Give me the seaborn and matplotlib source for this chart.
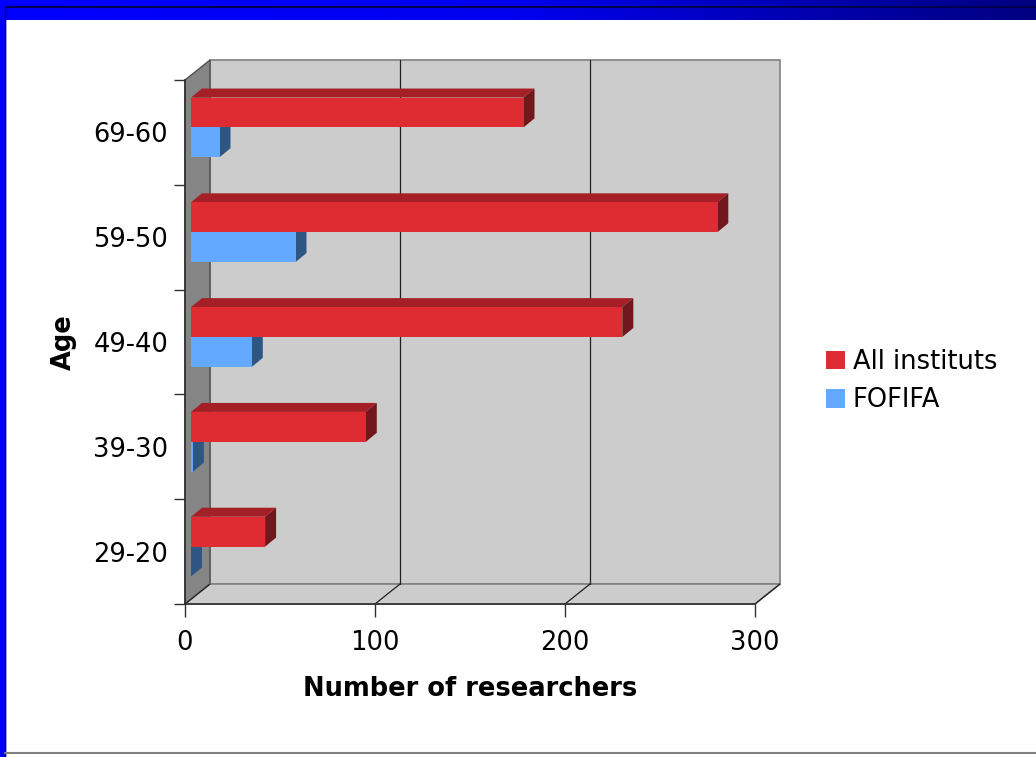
import numpy as np
import pandas as pd
import seaborn as sns
import matplotlib
matplotlib.use("Agg")
import matplotlib.pyplot as plt
from matplotlib.patches import Polygon, Rectangle, Patch
from matplotlib.lines import Line2D
from matplotlib.transforms import ScaledTranslation, IdentityTransform
from matplotlib.colors import LinearSegmentedColormap

# ---- data ----
ages = ["69-60", "59-50", "49-40", "39-30", "29-20"]
all_instituts = [175, 277, 227, 92, 39]
fofifa = [15, 55, 32, 1, 0]
series = ["All instituts", "FOFIFA"]
x_ticks = [0, 100, 200, 300]

front_colors = ["#DF2C33", "#63A9FF"]
top_colors = ["#A52026", "#3E6FA8"]
side_colors = ["#72171B", "#2F5682"]

df = pd.DataFrame({
    "Age": ages * 2,
    "Number": all_instituts + fofifa,
    "Series": [series[0]] * len(ages) + [series[1]] * len(ages),
})

W, H = 1036, 757
FS = 18.5
sns.set_theme(style="white")
plt.rcParams["font.family"] = ["DejaVu Sans"]
plt.rcParams["text.color"] = "black"
plt.rcParams["axes.labelcolor"] = "black"
fig = plt.figure(figsize=(W / 100, H / 100), dpi=100)
fig.patch.set_facecolor("white")

# ---- slide frame ----
top = fig.add_axes([0, 1 - 20 / H, 1, 20 / H])
cmap = LinearSegmentedColormap.from_list("g", ["#0000FF", "#0000EE", "#000080"])
top.imshow(np.linspace(0, 1, 256)[None, :], aspect="auto", cmap=cmap, extent=[0, 1, 0, 1])
top.axhline(0.64, color="#000050", lw=1.5)
top.set_axis_off()
fig.add_artist(Rectangle((0, 0), 5 / W, 1, transform=fig.transFigure, color="#0000FF", zorder=5))
fig.add_artist(Line2D([5 / W, 5 / W], [0, 1 - 7 / H], transform=fig.transFigure, color="#000060", lw=1, zorder=5))
fig.add_artist(Line2D([5 / W, 1], [1 - 753 / H, 1 - 753 / H], transform=fig.transFigure, color="#808080", lw=1.5, zorder=5))

# ---- main axes (front plane) ----
ax = fig.add_axes([185 / W, 1 - 604 / H, 570 / W, 524 / H])
ax.patch.set_visible(False)
sns.barplot(data=df, y="Age", x="Number", hue="Series", order=ages, hue_order=series,
            palette=front_colors, width=0.57, orient="h", saturation=1, linewidth=0,
            legend=False, ax=ax)
ax.set_xlim(0, 300)
ax.set_ylim(len(ages) - 0.5, -0.5)

# 3-D geometry (pixels)
wall_dx, wall_dy = 25, 20
bar_off = (6, 5)
depth = (11, 9)
ident = IdentityTransform()

def disp(x, y):
    return ax.transData.transform((x, y))

x0b, y0b = disp(0, len(ages) - 0.5)
x1b, y1t = disp(300, -0.5)
# back wall
ax.add_patch(Polygon([(x0b + wall_dx, y0b + wall_dy), (x1b + wall_dx, y0b + wall_dy),
                      (x1b + wall_dx, y1t + wall_dy), (x0b + wall_dx, y1t + wall_dy)],
                     closed=True, transform=ident, facecolor="#CCCCCC", edgecolor="#808080",
                     lw=1.2, zorder=0.1, clip_on=False))
# left wall
ax.add_patch(Polygon([(x0b, y0b), (x0b, y1t), (x0b + wall_dx, y1t + wall_dy), (x0b + wall_dx, y0b + wall_dy)],
                     closed=True, transform=ident, facecolor="#858585", edgecolor="#505050",
                     lw=1.0, zorder=0.2, clip_on=False))
# floor
ax.add_patch(Polygon([(x0b, y0b), (x1b, y0b), (x1b + wall_dx, y0b + wall_dy), (x0b + wall_dx, y0b + wall_dy)],
                     closed=True, transform=ident, facecolor="#CCCCCC", edgecolor="#808080",
                     lw=1.2, zorder=0.2, clip_on=False))
for v in x_ticks:
    xf, _ = disp(v, 0)
    ax.add_line(Line2D([xf, xf + wall_dx], [y0b, y0b + wall_dy], transform=ident,
                       color="#202020", lw=0.9, zorder=0.3, clip_on=False))
    if 0 < v < 300:
        ax.add_line(Line2D([xf + wall_dx, xf + wall_dx], [y0b + wall_dy, y1t + wall_dy], transform=ident,
                           color="#202020", lw=0.9, zorder=0.3, clip_on=False))

# bars: shift front faces and add top/side faces
shift = ScaledTranslation(bar_off[0] / 100, bar_off[1] / 100, fig.dpi_scale_trans)
bars = [p for p in ax.patches if isinstance(p, Rectangle) and p.get_zorder() >= 0.5]
for p in bars:
    fc = matplotlib.colors.to_hex(p.get_facecolor()).upper()
    idx = front_colors.index(fc) if fc in front_colors else 0
    bx, by, bw, bh = p.get_x(), p.get_y(), p.get_width(), p.get_height()
    (L, B) = disp(bx, by + bh)
    (R, T) = disp(bx + bw, by)
    L += bar_off[0]; R += bar_off[0]; B += bar_off[1]; T += bar_off[1]
    dx, dy = depth
    ax.add_patch(Polygon([(L, T), (R, T), (R + dx, T + dy), (L + dx, T + dy)], closed=True,
                         transform=ident, facecolor=top_colors[idx], lw=0, zorder=0.9, clip_on=False))
    ax.add_patch(Polygon([(R, B), (R, T), (R + dx, T + dy), (R + dx, B + dy)], closed=True,
                         transform=ident, facecolor=side_colors[idx], lw=0, zorder=0.95, clip_on=False))
    p.set_transform(ax.transData + shift)
    p.set_zorder(1)
    p.set_clip_on(False)

# axes styling
for s in ["top", "right"]:
    ax.spines[s].set_visible(False)
for s in ["left", "bottom"]:
    ax.spines[s].set_color("#303030")
    ax.spines[s].set_linewidth(1.2)
    ax.spines[s].set_zorder(0.5)
ax.set_xticks(x_ticks)
ax.set_xticklabels([str(v) for v in x_ticks])
ax.set_yticks(range(len(ages)))
ax.set_yticklabels(ages)
ax.set_yticks(np.arange(-0.5, len(ages)), minor=True)
ax.tick_params(axis="y", which="major", length=0, pad=12, labelsize=FS, labelcolor="black")
ax.tick_params(axis="y", which="minor", length=8, width=1, color="#303030", direction="out", left=True)
ax.tick_params(axis="x", which="major", length=9, width=1, color="#303030", direction="out",
               bottom=True, pad=10, labelsize=FS, labelcolor="black")
ax.set_xlabel("Number of researchers", fontsize=FS, fontweight="bold", color="black")
ax.set_ylabel("Age", fontsize=FS, fontweight="bold", color="black")
ax.xaxis.set_label_coords(0.5, -0.137)
ax.yaxis.set_label_coords(-0.19, 0.5)
ax.grid(False)

handles = [Patch(facecolor=c, edgecolor="none") for c in front_colors]
leg = fig.legend(handles, series, loc="center left", bbox_to_anchor=(826 / W, 1 - 381 / H),
                 frameon=False, fontsize=FS, handlelength=0.74, handleheight=0.74,
                 handletextpad=0.3, labelspacing=0.48, borderpad=0, borderaxespad=0)
for t in leg.get_texts():
    t.set_color("black")

fig.savefig("out.png", dpi=100)
